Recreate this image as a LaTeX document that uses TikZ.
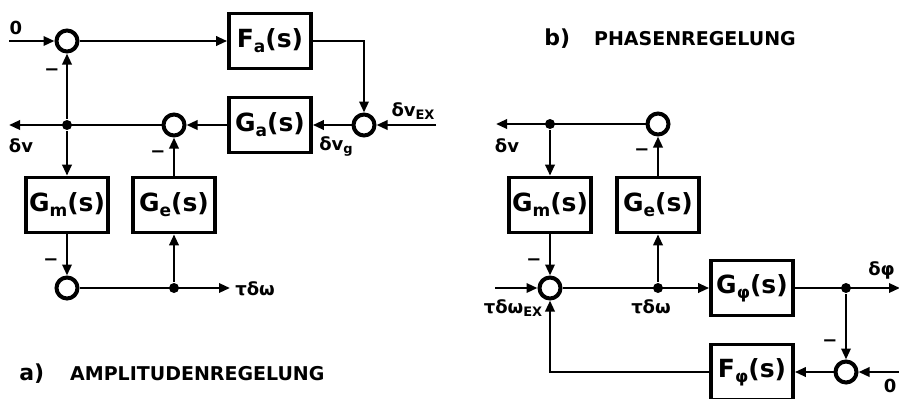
\documentclass[tikz,border=0pt]{standalone}
\usepackage{fontspec}
\setmainfont{DejaVu Sans}
\usetikzlibrary{arrows.meta,calc,positioning}
\newcommand{\bsub}[1]{\raisebox{-2.5pt}{\fontsize{8.5}{8.5}\selectfont #1}}
\newcommand{\lsub}[1]{\raisebox{-1.5pt}{\fontsize{6.5}{6.5}\selectfont #1}}

\begin{document}
\begin{tikzpicture}[x=0.5pt,y=-0.5pt,line width=1.3pt,
  >={Triangle[length=5.5pt,width=4.6pt]},
  blk/.style={draw,line width=1.8pt,minimum width=41pt,minimum height=27.5pt,
    inner sep=0pt,font=\fontsize{12.5}{12.5}\bfseries\selectfont},
  sum/.style={draw,circle,line width=2pt,minimum size=10.5pt,inner sep=0pt},
  dot/.style={fill,circle,inner sep=0pt,minimum size=5pt},
  lbl/.style={font=\fontsize{9}{9}\bfseries\selectfont,inner sep=0pt},
  neg/.style={font=\fontsize{9}{9}\bfseries\selectfont,inner sep=0pt},
  ttl/.style={font=\fontsize{9.5}{9.5}\bfseries\selectfont,inner sep=0pt}]
  \clip (0,0) rectangle (899,398);

  % a) amplitude loop
  \node[sum] (sa1) at (67,41) {};
  \node[blk] (Fa) at (270,41) {F\bsub{a}(s)};
  \node[sum] (sa3) at (364,125) {};
  \node[blk] (Ga) at (270,125) {G\bsub{a}(s)};
  \node[sum] (sa2) at (174,125) {};
  \node[dot] (ja) at (67,125) {};
  \node[blk] (Gma) at (67,205) {G\bsub{m}(s)};
  \node[blk] (Gea) at (174,205) {G\bsub{e}(s)};
  \node[sum] (sa4) at (67,288) {};
  \node[dot] (jb) at (174,288) {};
  \coordinate (ina) at (9,41);
  \coordinate (inex) at (436,125);
  \coordinate (outv) at (9,125);
  \coordinate (outw) at (230,288);

  \draw[->] (ina) -- (sa1);
  \draw[->] (sa1) -- (Fa);
  \draw[->] (Fa) -| (sa3);
  \draw[->] (inex) -- (sa3);
  \draw[->] (sa3) -- (Ga);
  \draw[->] (Ga) -- (sa2);
  \draw[->] (sa2) -- (outv);
  \draw[->] (ja) -- (sa1);
  \draw[->] (ja) -- (Gma);
  \draw[->] (Gea) -- (sa2);
  \draw[->] (Gma) -- (sa4);
  \draw[->] (sa4) -- (outw);
  \draw[->] (jb) -- (Gea);

  \node[lbl] (l0a) at (16,28) {0};
  \node[lbl] (lex) at (413,111) {δv\lsub{EX}};
  \node[lbl] (lvg) at (336,146) {δv\lsub{g}};
  \node[lbl] (lva) at (21,146) {δv};
  \node[lbl,anchor=west] (lwa) at (234,289) {τδω};
  \node[ttl,anchor=base west] (ta) at (18,380)
    {{\fontsize{11}{11}\selectfont a)}\hspace{13pt}AMPLITUDENREGELUNG};

  % b) phase loop
  \node[sum] (sb1) at (658,124) {};
  \node[dot] (jc) at (550,124) {};
  \node[blk] (Gmb) at (550,205) {G\bsub{m}(s)};
  \node[blk] (Geb) at (658,205) {G\bsub{e}(s)};
  \node[sum] (sb2) at (550,288) {};
  \node[dot] (jd) at (658,288) {};
  \node[blk] (Gphi) at (752,288) {G\bsub{φ}(s)};
  \node[dot] (je) at (846,288) {};
  \node[sum] (sb3) at (846,372) {};
  \node[blk] (Fphi) at (752,372) {F\bsub{φ}(s)};
  \coordinate (outvb) at (496,124);
  \coordinate (inwb) at (495,288);
  \coordinate (outphi) at (900,288);
  \coordinate (in0b) at (900,372);

  \draw[->] (sb1) -- (outvb);
  \draw[->] (jc) -- (Gmb);
  \draw[->] (Geb) -- (sb1);
  \draw[->] (Gmb) -- (sb2);
  \draw[->] (inwb) -- (sb2);
  \draw[->] (sb2) -- (Gphi);
  \draw[->] (jd) -- (Geb);
  \draw[->] (Gphi) -- (outphi);
  \draw[->] (je) -- (sb3);
  \draw[->] (in0b) -- (sb3);
  \draw[->] (sb3) -- (Fphi);
  \draw[->] (Fphi) -| (sb2);

  \node[lbl] (lvb) at (507,146) {δv};
  \node[lbl] (lwex) at (513,308) {τδω\lsub{EX}};
  \node[lbl] (lwb) at (651,307) {τδω};
  \node[lbl,anchor=east] (lphi) at (896,270) {δφ};
  \node[lbl] (l0b) at (890,386) {0};
  \node[ttl,anchor=base west] (tb) at (543,45)
    {{\fontsize{11}{11}\selectfont b)}\hspace{12pt}PHASENREGELUNG};

  % minus signs at the summing points
  \foreach \nm/\px/\py in {ma/52/72, mb/158/154, mc/51/262, md/642/152, me/534/262, mf/830/343}
    \node[neg] (\nm) at (\px,\py) {−};
\end{tikzpicture}
\end{document}
